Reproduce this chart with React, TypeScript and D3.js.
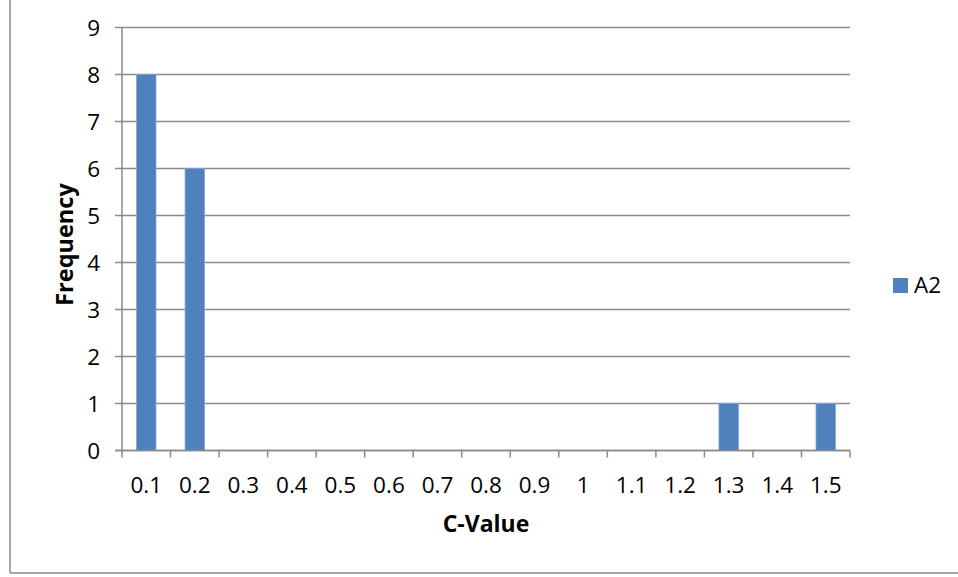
import React from "react";
import * as d3 from "d3";

const categories = ["0.1", "0.2", "0.3", "0.4", "0.5", "0.6", "0.7", "0.8", "0.9", "1", "1.1", "1.2", "1.3", "1.4", "1.5"];
const frequencies = [8, 6, 0, 0, 0, 0, 0, 0, 0, 0, 0, 0, 1, 0, 1];
const yTicks = [0, 1, 2, 3, 4, 5, 6, 7, 8, 9];
const seriesName = "A2";

const W = 958;
const H = 577;
const plot = { left: 122, right: 850, top: 27.5, bottom: 450.5 };
const FONT = "'Open Sans', 'Noto Sans', sans-serif";
const GRID = "#8a8a8a";
const BAR = "#4F81BD";

export default function App() {
  const x = d3.scaleBand<string>().domain(categories).range([plot.left, plot.right]).paddingInner(0.6).paddingOuter(0.3);
  const band = d3.scaleBand<string>().domain(categories).range([plot.left, plot.right]);
  const y = d3.scaleLinear().domain([0, 9]).range([plot.bottom, plot.top]);

  return (
    <svg width={W} height={H} style={{ position: "absolute", left: 0, top: 0, background: "#fff" }}>
      {/* chart frame */}
      <line x1={10} x2={10} y1={0} y2={573} stroke={GRID} strokeWidth={1.5} />
      <line x1={10} x2={W} y1={573} y2={573} stroke={GRID} strokeWidth={1.5} />

      {/* horizontal gridlines and y ticks */}
      {yTicks.map((t) => (
        <g key={t}>
          <line x1={plot.left - 7} x2={plot.right} y1={y(t)} y2={y(t)} stroke={GRID} strokeWidth={1.5} />
          <text x={100} y={y(t) + 8} textAnchor="end" fontFamily={FONT} fontSize={22.5} fill="#000">
            {t}
          </text>
        </g>
      ))}

      {/* bars */}
      {categories.map((c, i) =>
        frequencies[i] > 0 ? (
          <rect
            key={c}
            x={x(c)}
            y={y(frequencies[i])}
            width={x.bandwidth()}
            height={y(0) - y(frequencies[i])}
            fill={BAR}
            stroke="#7fa3d0"
            strokeWidth={0.8}
          />
        ) : null
      )}

      {/* axes */}
      <line x1={plot.left} x2={plot.left} y1={plot.top} y2={plot.bottom} stroke={GRID} strokeWidth={1.5} />
      <line x1={plot.left - 7} x2={plot.right} y1={plot.bottom} y2={plot.bottom} stroke={GRID} strokeWidth={1.5} />
      {[...categories.map((c) => band(c) as number), plot.right].map((px, i) => (
        <line key={i} x1={px} x2={px} y1={plot.bottom} y2={plot.bottom + 7} stroke={GRID} strokeWidth={1.5} />
      ))}
      {categories.map((c) => (
        <text
          key={c}
          x={(band(c) as number) + band.bandwidth() / 2}
          y={493}
          textAnchor="middle"
          fontFamily={FONT}
          fontSize={22.5}
          fill="#000"
        >
          {c}
        </text>
      ))}

      {/* axis titles */}
      <text x={486} y={532} textAnchor="middle" fontFamily={FONT} fontSize={23} fontWeight="bold" fill="#000">
        C-Value
      </text>
      <text
        transform={`translate(73, 244.5) rotate(-90)`}
        textAnchor="middle"
        fontFamily={FONT}
        fontSize={23.5}
        fontWeight="bold"
        fill="#000"
      >
        Frequency
      </text>

      {/* legend */}
      <rect x={893} y={278} width={15} height={15} fill={BAR} />
      <text x={914} y={293} fontFamily={FONT} fontSize={22.5} fill="#000">
        {seriesName}
      </text>
    </svg>
  );
}
